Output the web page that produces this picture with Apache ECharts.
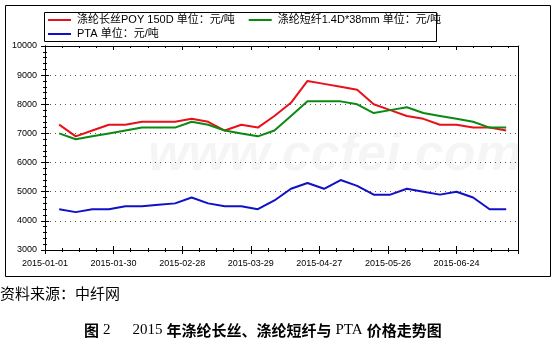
<!DOCTYPE html>
<html>
<head>
<meta charset="utf-8">
<script src="https://cdn.jsdelivr.net/npm/echarts@6/dist/echarts.min.js"></script>
<style>
  html, body { margin: 0; padding: 0; background: #fff; }
  #chart0 { width: 556px; height: 353px; }
</style>
</head>
<body>
<div id="chart0"></div>
<script>
// weekly prices
var dates = ['2015-01-07', '2015-01-14', '2015-01-21', '2015-01-28', '2015-02-04', '2015-02-11', '2015-02-18',
  '2015-02-25', '2015-03-04', '2015-03-11', '2015-03-18', '2015-03-25', '2015-04-01', '2015-04-08',
  '2015-04-15', '2015-04-22', '2015-04-29', '2015-05-06', '2015-05-13', '2015-05-20', '2015-05-27',
  '2015-06-03', '2015-06-10', '2015-06-17', '2015-06-24', '2015-07-01', '2015-07-08', '2015-07-15']
var poy = [7300, 6900, 7100, 7300, 7300, 7400, 7400, 7400, 7500, 7400, 7100, 7300, 7200, 7600,
  8050, 8800, 8700, 8600, 8500, 8000, 7800, 7600, 7500, 7300, 7300, 7200, 7200, 7100]
var psf = [7000, 6800, 6900, 7000, 7100, 7200, 7200, 7200, 7400, 7300, 7100, 7000, 6900, 7100,
  7600, 8100, 8100, 8100, 8000, 7700, 7800, 7900, 7700, 7600, 7500, 7400, 7200, 7200]
var pta = [4400, 4300, 4400, 4400, 4500, 4500, 4550, 4600, 4800, 4600, 4500, 4500, 4400, 4700,
  5100, 5300, 5100, 5400, 5200, 4900, 4900, 5100, 5000, 4900, 5000, 4800, 4400, 4400]
var names = ['涤纶长丝POY 150D 单位：元/吨', '涤纶短纤1.4D*38mm 单位：元/吨', 'PTA 单位：元/吨']

var startDay = Date.UTC(2015, 0, 1)
function dayOf(s) {
  return (Date.parse(s + 'T00:00:00Z') - startDay) / 86400000
}
function pairs(vals) {
  return vals.map(function (v, i) { return [dayOf(dates[i]), v] })
}
function dateLabel(v) {
  if (v % 29 !== 0) return ''
  return new Date(startDay + v * 86400000).toISOString().slice(0, 10)
}

var font = '"Liberation Sans", Arial, "Noto Sans CJK SC", sans-serif'
var dotted = { show: true, lineStyle: { color: '#555', width: 1, type: [1, 4] } }

function xAx(pos, inside, labels) {
  return {
    type: 'value', position: pos, min: 0, max: 200, interval: 29,
    axisLine: { show: true, onZero: false, lineStyle: { color: '#000', width: 1 } },
    axisTick: { show: true, inside: inside, length: 4, lineStyle: { color: '#000' } },
    minorTick: { show: true, splitNumber: 4, length: 2, lineStyle: { color: '#000' } },
    splitLine: { show: false },
    axisLabel: labels ? { show: true, formatter: dateLabel, color: '#000', fontSize: 9, fontFamily: font, margin: 9, showMaxLabel: false } : { show: false }
  }
}
function yAx(pos, inside, labels, ticks) {
  return {
    type: 'value', position: pos, min: 3000, max: 10000, interval: 1000,
    axisLine: { show: true, onZero: false, lineStyle: { color: '#000', width: 1 } },
    axisTick: { show: ticks, inside: inside, length: 4, lineStyle: { color: '#000' } },
    minorTick: { show: ticks, splitNumber: 5, length: 2, lineStyle: { color: '#000' } },
    splitLine: labels ? dotted : { show: false },
    axisLabel: labels ? { show: true, formatter: function (v) { return String(v) }, color: '#000', fontSize: 9, fontFamily: font, margin: 8 } : { show: false }
  }
}
function line(name, vals, color) {
  return {
    name: name, type: 'line', data: pairs(vals), symbol: 'none', xAxisIndex: 0, yAxisIndex: 0,
    lineStyle: { color: color, width: 2 }, itemStyle: { color: color }
  }
}
function legendAt(top, data) {
  return {
    left: 48, top: top, padding: 0, itemGap: 14, itemWidth: 23, itemHeight: 2, icon: 'rect',
    itemStyle: { borderWidth: 0 },
    textStyle: { color: '#000', fontSize: 11, fontFamily: font, lineHeight: 14, padding: [0, 0, 0, 1] },
    data: data
  }
}

var chart0 = echarts.init(document.getElementById('chart0'))
var option0 = {
  animation: false,
  backgroundColor: '#fff',
  grid: { left: 45, right: 38, top: 46, bottom: 103 },
  legend: [legendAt(13, [names[0], names[1]]), legendAt(27, [names[2]])],
  xAxis: [xAx('bottom', false, true), xAx('bottom', true, false), xAx('top', true, false)],
  yAxis: [yAx('left', false, true, true), yAx('left', true, false, true), yAx('right', true, false, false)],
  series: [
    line(names[0], poy, '#e8101a'),
    line(names[1], psf, '#0b8a12'),
    line(names[2], pta, '#1010c8')
  ],
  graphic: [
    { type: 'rect', shape: { x: 5.5, y: 5.5, width: 545, height: 271 }, style: { fill: null, stroke: '#000', lineWidth: 1 }, z: 0 },
    { type: 'rect', shape: { x: 44.5, y: 12.5, width: 392, height: 29 }, style: { fill: null, stroke: '#000', lineWidth: 1 } },
    { type: 'text', left: 148, top: 130, z: -1, style: { text: 'www.ccfei.com', fill: 'rgba(0,0,0,0.04)', font: 'italic bold 52px "Liberation Sans", Arial' } },
    { type: 'text', left: 0, top: 286, style: { text: '资料来源：中纤网', fill: '#000', font: '15px "Noto Sans CJK SC"' } },
    {
      type: 'text', left: 84, top: 323,
      style: {
        text: '{b|图}{s|2}{g|}{s|2015}{b|年涤纶长丝、涤纶短纤与}{s|PTA}{b|价格走势图}',
        fill: '#000',
        rich: {
          b: { font: 'bold 15px "Noto Sans CJK SC"', fill: '#000' },
          s: { font: '15px "Liberation Serif", serif', fill: '#000', padding: [0, 4, 0, 4] },
          g: { width: 14 }
        }
      }
    }
  ]
}
chart0.setOption(option0)
</script>
</body>
</html>
